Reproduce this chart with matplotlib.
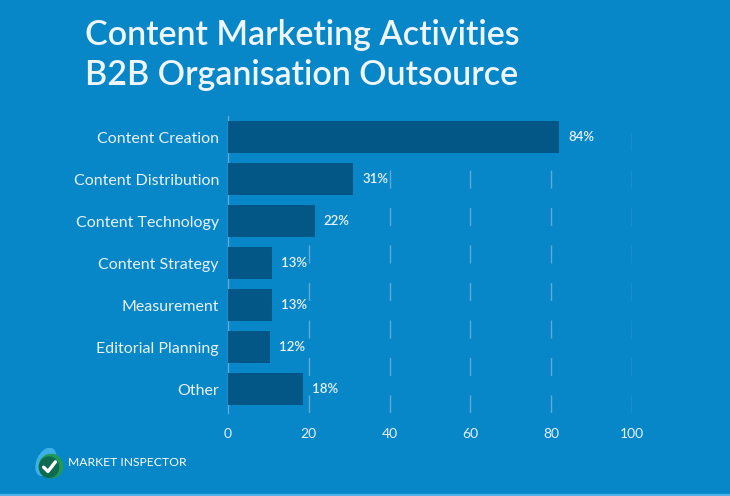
import matplotlib
matplotlib.use("Agg")
import matplotlib.pyplot as plt
from matplotlib.patches import Ellipse, Rectangle

categories = [
    "Content Creation",
    "Content Distribution",
    "Content Technology",
    "Content Strategy",
    "Measurement",
    "Editorial Planning",
    "Other",
]
# bar lengths as drawn in the picture; the printed labels differ slightly
bar_values = [82, 31, 21.5, 11, 11, 10.5, 18.5]
value_labels = ["84%", "31%", "22%", "13%", "13%", "12%", "18%"]
x_ticks = [0, 20, 40, 60, 80, 100]

BG = "#0786c8"
BAR = "#025787"
GRID = "#5aaadc"
TXT = "#e8f2fa"

plt.rcParams["font.family"] = ["Lato", "DejaVu Sans"]

W, H = 730, 496
fig = plt.figure(figsize=(W / 100, H / 100), dpi=100, facecolor=BG)

ax = fig.add_axes([228 / W, 1 - 413 / H, 404 / W, 297 / H])
ax.set_facecolor(BG)

y = list(range(len(categories)))
ax.barh(y, bar_values, height=0.76, color=BAR, zorder=3)
for yi, v, lab in zip(y, bar_values, value_labels):
    ax.text(v + 2.2, yi, lab, va="center", ha="left", color=TXT,
            fontsize=9.5, fontweight="semibold")

ax.set_xlim(0, 100)
ax.set_ylim(6.57, -0.5)
ax.set_yticks(y)
ax.set_yticklabels(categories, fontsize=11.5, color=TXT)
ax.set_xticks(x_ticks)
ax.set_xticklabels([str(t) for t in x_ticks], fontsize=10, color=TXT)
ax.tick_params(axis="both", length=0)
ax.tick_params(axis="y", pad=6.5)
ax.tick_params(axis="x", pad=11)

for t in x_ticks[1:]:
    ax.axvline(t, color=GRID, lw=1, dashes=(13, 14), zorder=1)

for s in ["top", "right", "bottom"]:
    ax.spines[s].set_visible(False)
ax.spines["left"].set_color(GRID)
ax.spines["left"].set_linewidth(1)

fig.text(85 / W, 1 - 35 / H, "Content Marketing Activities", fontsize=24.5,
         fontweight="semibold", color="#eef5fb", ha="left", va="center")
fig.text(85 / W, 1 - 75 / H, "B2B Organisation Outsource", fontsize=24.5,
         fontweight="semibold", color="#eef5fb", ha="left", va="center")

# logo
lax = fig.add_axes([33 / W, 1 - 480 / H, 32 / W, 32 / H])
lax.set_xlim(0, 30)
lax.set_ylim(0, 30)
lax.axis("off")
lax.add_patch(Ellipse((12, 17), 16, 27, angle=-25, color="#3db0e8"))
lax.add_patch(Ellipse((17, 13), 22, 22, color="#1f9a5a"))
lax.add_patch(Ellipse((15, 12), 18, 19, color="#0e6b4f"))
lax.plot([10, 14, 21], [12, 8, 17], color="white", lw=2.4,
         solid_capstyle="round", solid_joinstyle="round")
fig.text(68 / W, 1 - 463 / H, "MARKET INSPECTOR", fontsize=8.7,
         fontweight="normal", color="white", ha="left", va="center")

fig.patches.append(Rectangle((0, 0), 1, 2.5 / H, transform=fig.transFigure,
                             color="#4fb0ea", zorder=5))

fig.savefig("out.png", dpi=100, facecolor=BG)
